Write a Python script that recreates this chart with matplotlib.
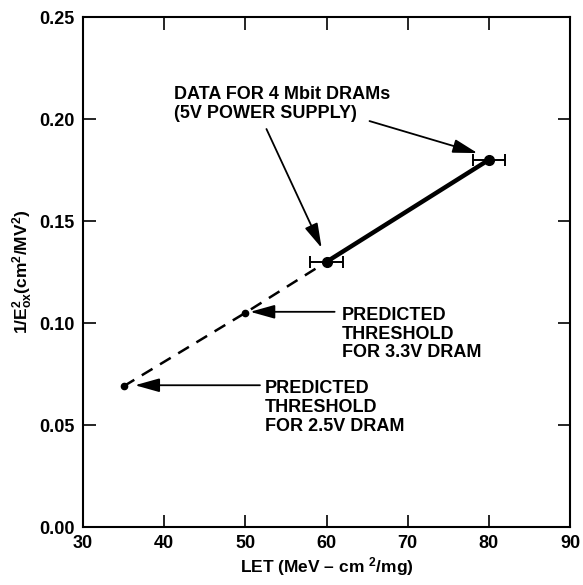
import numpy as np
import matplotlib
matplotlib.use("Agg")
import matplotlib.pyplot as plt

plt.rcParams['font.family'] = ['Liberation Sans', 'DejaVu Sans']
plt.rcParams['font.weight'] = 'bold'
plt.rcParams['mathtext.fontset'] = 'custom'
plt.rcParams['mathtext.rm'] = 'Liberation Sans:bold'
plt.rcParams['mathtext.it'] = 'Liberation Sans:bold'
plt.rcParams['mathtext.bf'] = 'Liberation Sans:bold'
plt.rcParams['mathtext.default'] = 'rm'

# measured 4 Mbit DRAM thresholds (5V supply)
let_meas = [60, 80]
inv_e2_meas = [0.130, 0.180]
let_err = [2, 2]

# extrapolated thresholds for lower supply voltages
let_pred = [35, 50, 60]
inv_e2_pred = [0.069, 0.105, 0.130]

xticks = [30, 40, 50, 60, 70, 80, 90]
yticks = [0.00, 0.05, 0.10, 0.15, 0.20, 0.25]

fig = plt.figure(figsize=(5.83, 5.85), dpi=100)
ax = fig.add_axes([0.1424, 0.0991, 0.8353, 0.8718])

# dashed extrapolation and thick measured segment
ax.plot(let_pred, inv_e2_pred, color='black', lw=1.8, linestyle=(0, (5, 3.5)))
ax.plot(let_pred[:2], inv_e2_pred[:2], 'o', color='black', ms=4.5)
ax.plot(let_meas, inv_e2_meas, color='black', lw=3.2, solid_capstyle='round')
ax.errorbar(let_meas, inv_e2_meas, xerr=let_err, fmt='o', color='black',
            ms=7, elinewidth=1.4, capsize=4.3, capthick=1.4)

arrow = dict(arrowstyle='-|>,head_length=1.5,head_width=0.42',
             color='black', lw=1.3, mutation_scale=10, shrinkA=0, shrinkB=0)
ax.annotate('', xy=(59.4, 0.1368), xytext=(52.6, 0.1951), arrowprops=arrow)
ax.annotate('', xy=(78.6, 0.1833), xytext=(65.3, 0.1990), arrowprops=arrow)
ax.annotate('', xy=(50.6, 0.1055), xytext=(61.0, 0.1055), arrowprops=arrow)
ax.annotate('', xy=(36.4, 0.0695), xytext=(51.8, 0.0695), arrowprops=arrow)

ax.text(41.2, 0.2074, 'DATA FOR 4 Mbit DRAMs\n(5V POWER SUPPLY)', fontsize=13,
        fontweight='bold', ha='left', va='center', linespacing=1.15)
ax.text(61.9, 0.0946, 'PREDICTED\nTHRESHOLD\nFOR 3.3V DRAM', fontsize=13,
        fontweight='bold', ha='left', va='center', linespacing=1.15)
ax.text(52.4, 0.0588, 'PREDICTED\nTHRESHOLD\nFOR 2.5V DRAM', fontsize=13,
        fontweight='bold', ha='left', va='center', linespacing=1.15)

ax.set_xlim(30, 90)
ax.set_ylim(0, 0.25)
ax.set_xticks(xticks)
ax.set_yticks(yticks)
ax.set_xticklabels([str(t) for t in xticks])
ax.set_yticklabels(['%.2f' % t for t in yticks])
ax.tick_params(direction='in', length=9, width=1.2, top=True, right=True,
               labelsize=13, pad=6)
for lab in ax.get_xticklabels() + ax.get_yticklabels():
    lab.set_fontweight('bold')
for s in ax.spines.values():
    s.set_linewidth(1.5)

ax.set_xlabel('LET (MeV \u2013 cm $^{2}$/mg)', fontsize=12.5, fontweight='bold', labelpad=2)
ax.set_ylabel('1/E$^{2}_{ox}$(cm$^{2}$/MV$^{2}$)', fontsize=12.5, fontweight='bold', labelpad=3)

fig.savefig('out.png', dpi=100)
